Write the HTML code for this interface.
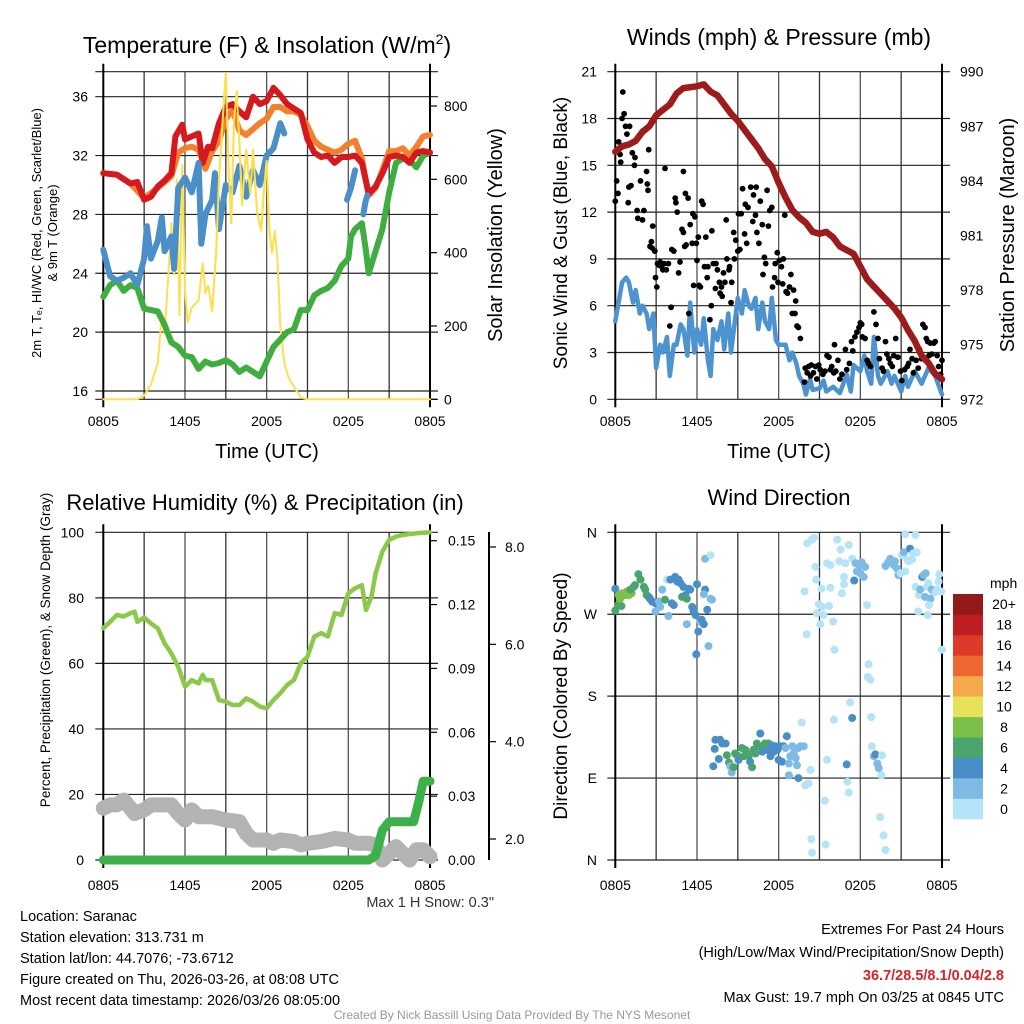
<!DOCTYPE html>
<html><head><meta charset="utf-8">
<style>
html,body{margin:0;padding:0;background:#fff;}
svg{display:block;font-family:"Liberation Sans",Arial,sans-serif;}
</style></head>
<body>
<svg id="chart" width="1024" height="1024" viewBox="0 0 1024 1024" xmlns="http://www.w3.org/2000/svg">
<rect width="1024" height="1024" fill="#fff"/>
<g id="g1"></g>
<g id="g2"></g>
<g id="g3"></g>
<g id="g4"></g>
<g id="txt" font-size="14.5">
<text x="20" y="921">Location: Saranac</text>
<text x="20" y="942">Station elevation: 313.731 m</text>
<text x="20" y="963">Station lat/lon: 44.7076; -73.6712</text>
<text x="20" y="984">Figure created on Thu, 2026-03-26, at 08:08 UTC</text>
<text x="20" y="1005">Most recent data timestamp: 2026/03/26 08:05:00</text>
<text x="494" y="907" text-anchor="end" fill="#333">Max 1 H Snow: 0.3"</text>
<text x="1004" y="934" text-anchor="end">Extremes For Past 24 Hours</text>
<text x="1004" y="957" text-anchor="end">(High/Low/Max Wind/Precipitation/Snow Depth)</text>
<text x="1004" y="980" text-anchor="end" fill="#d42428" font-weight="bold">36.7/28.5/8.1/0.04/2.8</text>
<text x="1004" y="1002" text-anchor="end">Max Gust: 19.7 mph On 03/25 at 0845 UTC</text>
<text x="512" y="1019" text-anchor="middle" font-size="12" fill="#999">Created By Nick Bassill Using Data Provided By The NYS Mesonet</text>
</g>
</svg>
<script>
// ===== Data (hours since 0805 UTC) =====
const timeTickLabels = ["0805","1405","2005","0205","0805"];
const tempTicks = [16,20,24,28,32,36];
const insTicks = [0,200,400,600,800];
const tempH = [0,1,2,2.5,3,3.5,4,4.5,5,5.3,5.8,6,6.5,7,7.3,7.7,8,8.5,9,9.5,10,10.5,11,11.5,12,12.5,13,13.5,14,14.5,15,15.5,16,16.5,17,17.5,18,18.5,19,19.5,20,20.5,21,21.5,22,22.5,23,23.5,24];
const tempV = [30.8,30.7,30.1,30.2,29,29.2,29.9,30.3,30.8,33.3,34.1,33.1,33.3,33.5,31.5,32.6,32.5,34.2,35.3,35.5,35,34.6,36,35.5,35.7,36.6,36.1,35.5,35.2,34.9,33.1,32.2,31.9,32,31.5,31.9,31.9,32,31.5,29.4,29.9,30.8,31.9,32,31.9,31.5,32.2,32.3,32.2];
const t9H = [0,1,2,3,4,5,5.5,6,6.5,7,7.5,8,8.5,9,9.5,10,10.5,11,11.5,12,12.5,13,13.5,14,14.5,15,15.5,16,16.5,17,17.5,18,18.5,19,19.5,20,20.5,21,21.5,22,22.5,23,23.5,24];
const t9V = [30.8,30.7,30.1,29.1,29.8,30.6,32.2,32.5,32.6,32.4,31.1,32.3,33,34.5,35.1,33.7,33.4,33.8,34.2,34.5,35.3,35.3,35,35,34.8,34,33,32.6,32.4,32.2,32.4,32.8,33,31.8,29.3,29.8,31,32.3,32.3,32.5,32,32.6,33.3,33.4];
const hiwcH = [0,0.5,1,1.5,2,2.5,3,3.2,3.5,4,4.3,4.5,5,5.2,5.5,6,6.5,7,7.2,7.5,8,8.2,8.5,9,9.5,10,10.5,11,11.5,12,12.5,13,13.3];
const hiwcV = [25.6,23.8,23.5,23.7,24,23.2,25,27.2,25,26.2,27.8,25.5,26.5,24.3,29.8,30.5,29.5,31.5,26,28,29,30.8,27,30,29.5,31.3,29.2,31,30,32,32.5,34.2,33.5];
const hiwc2H = [17.9,18.2,18.5];
const hiwc2V = [29,29.8,31];
const hiwc3H = [19.1,19.25,19.4];
const hiwc3V = [28,28.8,29.3];
const tdH = [0,0.5,1,1.5,2,2.5,3,3.5,4,4.5,5,5.5,6,6.5,7,7.5,8,8.5,9,9.5,10,10.5,11,11.5,12,12.5,13,13.5,14,14.5,15,15.5,16,16.5,17,17.5,18,18.2,18.5,19,19.3,19.5,20,20.5,21,21.5,22,22.5,23,23.5,24];
const tdV = [22.4,23.2,23.5,22.8,23.2,23,21.6,21.5,21.4,20.5,19.3,19,18.4,18.3,17.5,18,17.8,17.9,18.1,17.8,17.3,17.6,17.3,17,18,19,19.5,20,20.2,21.5,21.5,22.5,22.8,23,23.5,24.5,25,26.5,27,27.4,25.5,24,25.5,27,29.5,31.5,31.8,31.7,31.2,32,32.2];
const insH = [0,2.5,3,3.5,4,4.3,4.5,4.8,5,5.2,5.4,5.6,5.8,6,6.2,6.5,7,7.3,7.5,7.7,8,8.3,8.5,8.8,9,9.2,9.4,9.6,9.8,10,10.2,10.5,10.8,11,11.3,11.6,11.8,12,12.2,12.4,12.6,12.8,13,13.3,13.6,14,14.5,15,24];
const insV = [0,0,10,40,100,230,180,350,480,340,600,230,640,300,210,250,270,370,290,310,240,410,600,780,890,640,480,760,840,700,530,680,560,680,510,460,570,650,460,400,460,380,200,100,60,35,5,0,0];

const windTicks = [0,3,6,9,12,15,18,21];
const presTicks = [972,975,978,981,984,987,990];
const presH = [0,0.5,1,1.5,2,2.5,3,3.5,4,4.5,5,6,6.5,7,7.5,8,8.5,9,9.5,10,10.5,11,11.5,12,12.5,13,13.5,14,14.5,15,15.5,16,16.5,17,17.5,18,18.5,19,19.5,20,20.5,21,21.5,22,22.5,23,23.5,24];
const presV = [985.6,985.9,986,986.2,986.7,987,987.6,987.9,988.2,988.8,989.1,989.2,989.3,988.9,988.7,988.2,987.7,987.3,986.8,986.3,985.8,985.2,984.8,983.9,983.1,982.4,982,981.7,981.2,981.1,981.2,980.9,980.4,980.2,980,979.3,978.6,978.2,977.8,977.4,977,976.5,975.8,975.2,974.4,974,973.4,973.1];
const sonicH = [0,0.3,0.5,0.8,1,1.3,1.5,1.8,2,2.3,2.5,2.8,3,3.3,3.5,3.8,4,4.3,4.5,4.8,5,5.3,5.5,5.8,6,6.3,6.5,6.8,7,7.2,7.5,7.8,8,8.3,8.5,9,9.3,9.5,9.8,10,10.3,10.5,10.8,11,11.3,11.5,11.8,12,12.3,12.5,12.8,13,13.3,13.5,13.8,14,14.3,14.5,15,15.3,15.5,16,16.5,17,17.3,17.5,18,18.3,18.5,18.8,19,19.3,19.5,20,20.3,20.5,21,21.3,21.5,22,22.5,23,23.5,24];
const sonicV = [5,6.5,7.5,7.8,7.5,6.2,7,5.5,6,5.5,4.5,5.5,2,3.5,3,4,1.5,3.5,3.5,4.8,4.5,2.8,6.2,3,4.5,3.5,5.2,2.5,1.5,4.5,3.8,5,3.2,5.5,3,6.5,5.5,7,6,5.8,6.5,4.5,6.2,5,4.5,6.5,3.8,3.5,3.5,3.5,2.5,3,2.3,1.5,1,0.3,1.3,0.6,0.7,1.2,0.5,0.8,0.4,1.6,0.5,2.2,1.8,2.8,1.8,1,4,1.5,1,1.8,1,1.5,0.5,1.5,0.8,1.8,1,2,1.5,0.3];
const gustH = [0,0.1,0.2,0.25,0.35,0.4,0.55,0.65,0.5,0.75,0.85,1.05,0.95,1,1.15,1.25,1.4,1.45,1.6,1.65,1.85,2,2.1,2.3,2.35,2.4,2.45,2.55,2.65,2.7,2.75,2.9,2.95,3.05,3.1,3.2,3.3,3.4,3.5,3.6,3.65,3.75,3.9,4,4.1,4.15,4.3,4.4,4.45,4.55,4.65,4.75,4.9,5,5,5.1,5.15,5.2,5.35,5.4,5.5,5.65,5.7,5.75,5.85,5.95,6,6.1,6.15,6.25,6.35,6.45,6.55,6.65,6.75,6.8,6.95,7.05,7.1,7.2,7.35,7.4,7.5,7.65,7.7,7.8,7.85,7.95,8.05,8.15,8.2,8.35,8.4,8.5,8.55,8.7,8.75,8.85,9,9.05,9.15,9.25,9.35,9.5,9.55,9.65,9.75,9.95,10.1,10.15,10.3,10.35,10.4,10.55,10.65,10.8,10.85,10.95,11.05,11.15,11.25,11.35,11.5,11.55,11.7,11.75,11.9,11.95,12.05,12.2,12.3,12.35,12.45,12.55,12.65,12.8,12.9,13,13.1,13.2,13.25,13.35,13.45,13.6,
13.9,13.95,14.1,14.2,14.35,14.4,14.55,14.7,14.8,14.95,15.05,15.25,15.4,15.55,15.7,15.8,15.9,16.05,16.1,16.2,16.35,16.5,16.65,16.9,17,17.2,17.35,17.45,17.6,17.75,17.9,18,18.1,18.15,18.35,18.5,18.6,18.75,19,19.1,19.15,19.3,19.4,19.6,19.7,19.85,19.95,20.1,20.2,20.35,20.45,20.6,20.75,20.95,21.05,21.25,21.45,21.55,21.65,21.8,21.9,22.1,22.25,22.35,22.5,22.6,22.75,22.85,22.95,23.05,23.15,23.25,23.4,23.5,23.65,23.75,23.9,24];
const gustV = [12.7,14,13.2,16.5,15.7,15.2,19.7,18.3,18,17.5,17,17.5,12.6,13.6,13.7,15.8,15,15.5,12.1,11.6,14,11.5,12.1,14.6,13.8,13.4,16,9.8,10.1,9.7,11.1,9.5,7.8,7.2,8.7,8.6,8.8,8.5,8.3,8.7,14.8,8.3,8.7,4.7,5.9,9.6,9.5,12.9,12.6,12,8.1,8.8,10.9,10.7,14.6,9.8,13.2,9.9,12.9,5.5,11.2,10,11.9,7.3,11.7,10,8.9,10.4,7.3,7.2,12.7,12.5,8.5,10.4,7.8,8.5,5.1,6,10.8,8.7,7.1,8.7,8.3,7.5,6.8,7.2,6.6,8.1,7.5,11.5,9,8.3,8.5,6.2,7.5,10.7,9,10.2,9.5,11.9,9.6,11.9,13.5,10.6,12.5,10,12.3,13.6,11.4,13.1,11.8,13.6,10.7,10,12.7,11.2,8,9.1,8.7,13.4,11.1,12.1,12.3,7.2,7.8,8.7,9.4,7.5,8.9,8.5,7.4,9,11.8,6.9,6.8,7.2,8,5.5,7,5.5,6.3,4.7,4.6,3.9,
1.1,2,1.7,2.1,1.5,2.2,1.7,2.1,1.3,2.2,1.9,1.6,1.8,2.8,2.7,1.9,2.1,1.7,3.5,1.8,2.5,1.3,1.6,3.2,1.9,2.3,3.7,3.1,4,4.3,4.6,4.9,4.8,4,3.9,2.5,2.3,2.1,5.6,7.1,4.8,3.9,2.6,2,1.8,3.7,2.9,2.6,2.3,2.1,2.8,3.9,2.7,1.8,1.2,1.9,2.1,2.3,3.2,2.6,1.7,2.5,2,3.2,2.6,4.8,4.6,3.9,3.7,2.8,3.6,2.9,3.6,3.7,2.8,2.1,1.6,2.5];

const rhTicks = [0,20,40,60,80,100];
const precipTicks = ["0.00","0.03","0.06","0.09","0.12","0.15"];
const snowTicks = ["2.0","4.0","6.0","8.0"];
const rhH = [0,0.5,1,1.5,2,2.3,2.5,3,3.5,4,4.5,5,5.5,6,6.5,7,7.3,7.5,8,8.5,9,9.5,10,10.5,11,11.5,12,12.5,13,13.5,14,14.5,15,15.5,16,16.5,17,17.5,18,18.5,19,19.3,19.7,20,20.5,21,21.5,22,23,24];
const rhV = [70.7,72.7,74.8,74.3,75.3,75.8,72.7,74,72.2,70.7,66.1,63,59,52.9,54.9,53.9,56.5,54.9,54.9,48.8,48.3,47.3,47.3,49.3,48.3,46.8,46.3,48.8,50.9,53.4,54.9,60,62,68.2,69.2,68.2,75.3,74.8,81.4,82.9,83.9,76.3,80.4,87.5,94.1,97.7,98.7,99.2,99.7,100];
const precipH = [0,19.5,20,20.5,21,22,22.8,23.2,23.5,24];
const precipV = [0,0,0.002,0.014,0.018,0.018,0.018,0.028,0.037,0.037];
const snowH = [0,0.5,1,1.5,2,2.3,3,3.5,4,5,5.5,6,6.5,7,8,9,10,10.5,11,12,12.5,13,14,14.5,15,16,16.5,17,18,18.5,19,19.5,20,20.5,21,21.5,22,22.5,23,23.5,24];
const snowV = [15.8,16.8,16.8,18.3,15.8,14.2,15.3,16.8,16.8,16.8,14.2,12.2,15.3,13.2,13.2,12.2,11.7,8.1,6.1,6.1,5.1,6.1,5.6,4.6,5.1,5.6,6.1,6.6,6.1,5.1,5.1,5.1,4.6,0,2,4.1,2,0,3.1,3.1,1];

const dirLabels = ["N","E","S","W","N"];
const speedBins = ["0","2","4","6","8","10","12","14","16","18","20+"];
const dirH = [0,0,0.2,0.45,0.25,0.5,0.75,1,1.2,0.35,0.85,1.1,1.35,1.45,1.7,1.85,2.1,2.2,2.3,2.45,2.55,2.7,2.95,3.2,2.95,3.3,3.45,3.65,3.8,3.9,4.05,4.15,4.3,4.4,4.55,4.65,4.8,4.9,5,5.15,5.25,5.4,5.5,5.65,5.75,5.9,6,6.1,5.95,6.25,6.35,6.5,6.6,6.75,6.85,7,7.1,6.6,7,5.25,6.5,
7.2,7.3,7.35,7.6,7.7,7.85,8.1,8.2,8.35,8.45,8.55,8.7,8.8,8.95,9.05,9.3,9.45,9.55,9.65,9.8,9.9,10.05,10.15,10.3,10.4,10.55,10.65,10.8,10.9,11,11.15,11.25,11.4,11.5,11.65,11.75,11.9,12,12.1,12.25,12.35,12.5,12.6,12.75,12.85,13,13.1,13.25,13.35,13.45,13.6,13.7,13.85,12.75,13.45,13.95,14.2,14.35,
14.1,14.45,14.6,14.7,14.75,13.9,15.15,14.95,15.2,14.8,15.05,15.3,15.55,15.8,15.8,15.7,16,16.1,16.3,16.55,16.65,16.45,16.8,16.8,16.9,17.15,17.4,17.65,17.75,17.9,18,18.1,18.25,18.35,17.55,18.5,18.6,18.55,18.75,18.8,17.25,17.4,16.05,18.85,19,19.1,19.25,19.35,19.55,19.6,17,17.05,17.15,15.55,15.4,19.45,19.7,19.85,14.4,14.45,15.45,14.05,19.85,20.05,20.2,20.45,20.55,20.7,20.8,20.95,21.05,21.2,21.3,21.45,21.55,21.65,21.8,21.9,22.05,22.15,21.3,22.05,22.3,22.4,22.55,22.75,22.65,22.8,22.9,23,23.15,23.25,23.4,23.5,23.65,23.75,23.8,23.95,22.25,22.95,23.05,24];
const dirDeg = [298,274,280,279,291,293,291,291,293,287,295,297,300,302,314,308,300,297,291,289,287,284,282,284,273,278,297,286,308,268,308,282,280,311,306,308,304,289,300,291,287,298,297,278,273,269,303,251,226,262,264,259,297,275,235,287,286,331,335,259,292,
103,122,132,111,132,128,128,115,107,103,96,102,117,115,110,123,114,121,117,114,108,102,121,117,128,125,139,119,125,128,121,128,114,126,119,125,121,110,125,108,125,123,136,106,114,125,117,112,104,123,125,151,125,93,90,82,84,99,
348,352,354,322,308,295,298,281,278,271,259,269,326,324,299,279,262,231,352,341,293,328,303,311,326,346,331,326,317,324,315,327,311,322,307,280,215,201,198,157,173,156,154,125,114,116,106,101,93,115,105,86,74,110,65,47,27,11,23,8,17,248,323,327,331,324,328,320,313,315,335,338,317,330,328,342,330,337,357,338,358,300,291,297,311,289,313,315,300,304,287,297,295,294,297,306,314,295,273,269,280,231];
const dirSpd = [5,7,7,7,9,9,9,9,9,9,9,7,7,7,7,7,7,7,7,7,5,5,5,3,3,3,3,7,1,3,5,5,5,5,5,5,5,7,5,5,7,5,5,5,5,5,5,5,5,3,5,5,5,5,3,3,3,3,1,3,3,
5,5,5,5,5,5,5,7,7,3,3,7,7,7,5,7,7,7,7,7,5,7,7,7,7,7,5,5,7,7,5,7,5,5,5,5,5,5,5,5,5,3,5,3,3,3,3,3,3,3,3,1,3,3,5,1,1,1,
1,1,1,1,1,1,1,1,1,1,1,1,1,1,1,1,1,1,1,1,1,1,1,1,1,1,1,3,3,3,3,3,3,3,5,1,1,1,1,1,1,5,1,1,3,5,3,3,1,1,5,1,1,1,1,1,1,1,1,1,1,1,3,3,3,3,3,3,3,1,1,3,1,1,1,5,1,1,1,1,1,1,1,3,5,3,3,3,1,1,3,3,3,1,1,1,1,1,1,1,1,1];
const binColors = ["#b5e3f7","#7ebbe4","#4a8ec8","#4aa56c","#7cc04c","#e7e25c","#f5a94a","#ee6630","#dd3a2a","#bf1e24","#921a1a"];

// ===== helpers =====
const NS = "http://www.w3.org/2000/svg";
function mk(tag, attrs, parent, text) {
  const e = document.createElementNS(NS, tag);
  for (const k in attrs) e.setAttribute(k, attrs[k]);
  if (text !== undefined) e.textContent = text;
  parent.appendChild(e);
  return e;
}
function linScale(d0, d1, r0, r1) { return v => r0 + (v - d0) * (r1 - r0) / (d1 - d0); }
const X0 = 103.3, X1 = 430;
const xL = linScale(0, 24, X0, X1);
const xR = linScale(0, 24, 615.3, 942);
function pathD(hs, vs, xs, ys) { return hs.map((h, i) => (i ? "L" : "M") + xs(h).toFixed(1) + "," + ys(vs[i]).toFixed(1)).join(""); }

function frame(g, x0, x1, yT, yB, hLines, xs) {
  for (let k = 0; k <= 8; k++) {
    const x = xs(k * 3);
    const ln = mk("line", {x1: x, x2: x, y1: yT, y2: yB, stroke: (k % 2 ? "#333" : "#555"), "stroke-width": 1.3}, g);
    
    
  }
  hLines.forEach(y => {
    const ln = mk("line", {x1: x0 - 8, x2: x1 + 8, y1: y, y2: y, stroke: "#222", "stroke-width": 1.2}, g);
    
    
  });
  const ax = mk("line", {x1: x0, x2: x0, y1: yT - 8, y2: yB + 8, stroke: "#000", "stroke-width": 2}, g);
  
  
  const ax2 = mk("line", {x1: x1, x2: x1, y1: yT - 8, y2: yB + 8, stroke: "#000", "stroke-width": 2}, g);
  
  
}
function xLabels(g, xs, y) {
  timeTickLabels.forEach((t, i) => {
    const e = mk("text", {x: xs(i * 6), y: y, "text-anchor": "middle", "font-size": 14}, g, t);
    
    
  });
}
function txt(g, x, y, s, size, anchor, rot, name) {
  const a = {x: x, y: y, "font-size": size, "text-anchor": anchor || "start"};
  if (rot) a.transform = "rotate(-90 " + x + " " + y + ")";
  const e = mk("text", a, g, s);
  
  
  return e;
}
function line(g, d, color, w, name) {
  const e = mk("path", {d: d, fill: "none", stroke: color, "stroke-width": w, "stroke-linejoin": "round", "stroke-linecap": "round"}, g);
  
  
}

// ===== Panel 1 =====
(function () {
  const g = document.getElementById("g1");
  const yT = linScale(16, 36, 391, 96.7);
  const yI = linScale(0, 800, 399.3, 106);
  frame(g, X0, X1, 71.7, 399.3, [71.7, 399.3].concat(tempTicks.map(yT)), xL);
  tempTicks.forEach(t => txt(g, 88, yT(t) + 5, String(t), 14, "end", false, "temp-tick-label"));
  insTicks.forEach(w => {
    txt(g, 444, yI(w) + 5, String(w), 14, "start", false, "insolation-tick-label");
    const tk = mk("line", {x1: X1, x2: X1 + 7, y1: yI(w), y2: yI(w), stroke: "#000", "stroke-width": 1.2}, g);
    
    
  });
  line(g, pathD(insH, insV, xL, yI), "#fde050", 2, "insolation-line");
  line(g, pathD(tdH, tdV, xL, yT), "#3fae3f", 6, "dewpoint-line");
  line(g, pathD(t9H, t9V, xL, yT), "#f47f2c", 6, "temp-9m-line");
  line(g, pathD(tempH, tempV, xL, yT), "#d4191f", 6, "temp-2m-line");
  line(g, pathD(hiwcH, hiwcV, xL, yT), "#4a8fc8", 6, "heat-index-windchill-line");
  line(g, pathD(hiwc2H, hiwc2V, xL, yT), "#4a8fc8", 6, "heat-index-windchill-line");
  line(g, pathD(hiwc3H, hiwc3V, xL, yT), "#4a8fc8", 6, "heat-index-windchill-line");
  line(g, pathD(insH.filter(h => h >= 8 && h <= 12.4), insV.filter((v, i) => insH[i] >= 8 && insH[i] <= 12.4), xL, yI), "#fde050", 2, "insolation-line-top");
  const t = txt(g, 267, 53, "Temperature (F) & Insolation (W/m", 23, "middle", false, "panel-title");
  const s = mk("tspan", {dy: -9, "font-size": 14}, t, "2");  
  const s2 = mk("tspan", {dy: 9}, t, ")");  
  txt(g, 41, 233, "2m T, T\u2091, HI/WC (Red, Green, Scarlet/Blue)", 13, "middle", true, "y-axis-title");
  txt(g, 57, 233, "& 9m T (Orange)", 13, "middle", true, "y-axis-title-2");
  txt(g, 502, 235, "Solar Insolation (Yellow)", 20, "middle", true, "y2-axis-title");
  xLabels(g, xL, 426);
  txt(g, 267, 458, "Time (UTC)", 20, "middle", false, "x-axis-title");
})();

// ===== Panel 2 =====
(function () {
  const g = document.getElementById("g2");
  const yW = linScale(0, 21, 399.3, 71.7);
  const yP = linScale(972, 990, 399.3, 71.7);
  frame(g, 615.3, 942, 71.7, 399.3, windTicks.map(yW), xR);
  windTicks.forEach(v => txt(g, 597, yW(v) + 5, String(v), 14, "end", false, "wind-tick-label"));
  presTicks.forEach(p => txt(g, 960, yP(p) + 5, String(p), 14, "start", false, "pressure-tick-label"));
  line(g, pathD(sonicH, sonicV, xR, yW), "#4d93cf", 4.5, "sonic-wind-line");
  gustH.forEach((h, i) => {
    const c = mk("circle", {cx: xR(h).toFixed(1), cy: yW(gustV[i]).toFixed(1), r: 2.9, fill: "#000"}, g);
    
    
  });
  line(g, pathD(presH, presV, xR, yP), "#9e1b1b", 6.5, "pressure-line");
  txt(g, 779, 45, "Winds (mph) & Pressure (mb)", 23, "middle", false, "panel-title");
  txt(g, 567, 233, "Sonic Wind & Gust (Blue, Black)", 19, "middle", true, "y-axis-title");
  txt(g, 1014, 235, "Station Pressure (Maroon)", 20, "middle", true, "y2-axis-title");
  xLabels(g, xR, 426);
  txt(g, 779, 458, "Time (UTC)", 20, "middle", false, "x-axis-title");
})();

// ===== Panel 3 =====
(function () {
  const g = document.getElementById("g3");
  const yR = linScale(0, 100, 860, 532.3);
  const yPr = linScale(0, 0.15, 860, 540.7);
  const ySn = linScale(2, 8, 839, 547);
  frame(g, X0, X1, 532.3, 860, rhTicks.map(yR), xL);
  rhTicks.forEach(v => txt(g, 84, yR(v) + 5, String(v), 14, "end", false, "rh-tick-label"));
  precipTicks.forEach(p => {
    txt(g, 448, yPr(+p) + 5, p, 14, "start", false, "precip-tick-label");
    const tk = mk("line", {x1: X1, x2: X1 + 7, y1: yPr(+p), y2: yPr(+p), stroke: "#000", "stroke-width": 1.2}, g);
    
    
  });
  const sa = mk("line", {x1: 489, x2: 489, y1: 532, y2: 860, stroke: "#000", "stroke-width": 2}, g);
  
  
  snowTicks.forEach(s => {
    txt(g, 505, ySn(+s) + 5, s, 14, "start", false, "snow-tick-label");
    const tk = mk("line", {x1: 489, x2: 496, y1: ySn(+s), y2: ySn(+s), stroke: "#000", "stroke-width": 1.2}, g);
    
    
  });
  line(g, pathD(snowH, snowV, xL, yR), "#b3b3b3", 15, "snow-depth-line");
  line(g, pathD(rhH, rhV, xL, yR), "#8cc94a", 4.5, "rh-line");
  line(g, pathD(precipH, precipV, xL, yPr), "#3cb14a", 9, "precip-line");
  txt(g, 265, 510, "Relative Humidity (%) & Precipitation (in)", 22, "middle", false, "panel-title");
  txt(g, 50, 650, "Percent, Precipitation (Green), & Snow Depth (Gray)", 13.5, "middle", true, "y-axis-title");
  xLabels(g, xL, 890);
})();

// ===== Panel 4 =====
(function () {
  const g = document.getElementById("g4");
  const yD = linScale(0, 360, 860, 532.3);
  frame(g, 615.3, 942, 532.3, 860, [0, 90, 180, 270, 360].map(yD), xR);
  dirLabels.forEach((l, i) => txt(g, 597, yD(i * 90) + 5, l, 14, "end", false, "direction-tick-label"));
  dirH.forEach((h, i) => {
    const sp = (dirSpd[i] === undefined) ? 1 : dirSpd[i];
    const b = Math.min(10, Math.floor(sp / 2));
    const c = mk("circle", {cx: xR(h).toFixed(1), cy: yD(dirDeg[i]).toFixed(1), r: 4, fill: binColors[b]}, g);
    
    
  });
  txt(g, 779, 505, "Wind Direction", 22, "middle", false, "panel-title");
  txt(g, 567, 696, "Direction (Colored By Speed)", 19, "middle", true, "y-axis-title");
  xLabels(g, xR, 890);
  txt(g, 990, 588, "mph", 14, "start", false, "colorbar-title");
  const h = (819 - 594) / speedBins.length;
  speedBins.forEach((s, i) => {
    const y = 819 - (i + 1) * h;
    const r = mk("rect", {x: 953, y: y.toFixed(1), width: 30, height: (h + 0.3).toFixed(1), fill: binColors[i]}, g);
    
    
    txt(g, 1004, y + h / 2 + 5, s, 14, "middle", false, "colorbar-label");
  });
})();
</script>
</body></html>
